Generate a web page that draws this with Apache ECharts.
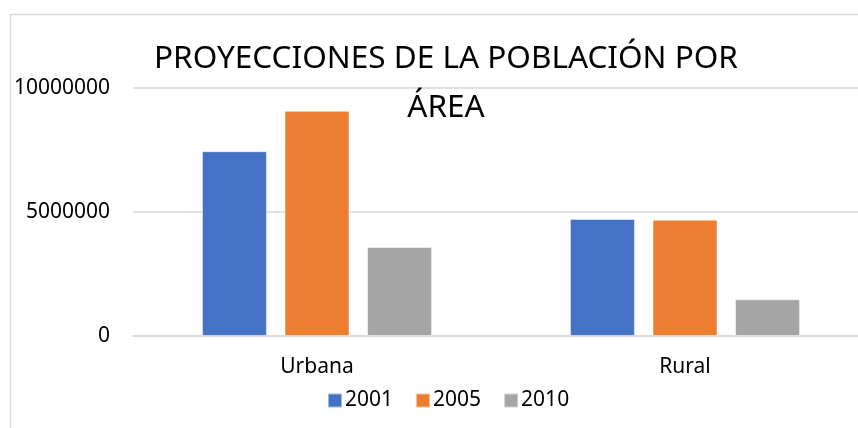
<!DOCTYPE html>
<html>
<head>
<meta charset="utf-8">
<script src="https://cdn.jsdelivr.net/npm/echarts@6/dist/echarts.min.js"></script>
<style>
  html, body { margin: 0; padding: 0; background: #fff; overflow: hidden; }
  #chart { width: 880px; height: 428px; }
</style>
</head>
<body>
<div id="chart"></div>
<script>
var categories = ['Urbana', 'Rural'];
var years = ['2001', '2005', '2010'];
var values2001 = [7450000, 4720000];
var values2005 = [9080000, 4690000];
var values2010 = [3590000, 1480000];
var yTicks = [0, 5000000, 10000000];
var colors = ['#4472C4', '#ED7D31', '#A5A5A5'];

var chart = echarts.init(document.getElementById('chart'));
var font = 'Noto Sans';

var seriesData = [values2001, values2005, values2010];
var series = years.map(function (y, i) {
    return {
        name: y,
        type: 'bar',
        data: seriesData[i],
        barWidth: 65,
        barGap: '27%',
        itemStyle: { color: colors[i], borderColor: 'rgba(255,255,255,0.5)', borderWidth: 1 }
    };
});

var option = {
    backgroundColor: '#fff',
    animation: false,
    graphic: [{
        type: 'rect',
        shape: { x: 10.5, y: 14.5, width: 900, height: 500 },
        style: { fill: 'none', stroke: '#d9d9d9', lineWidth: 1.5 },
        z: -1
    }],
    title: {
        text: 'PROYECCIONES DE LA POBLACIÓN POR\nÁREA',
        left: 441,
        top: 30,
        textAlign: 'center',
        textStyle: { fontFamily: font, fontSize: 31.5, fontWeight: 'normal', color: '#000', lineHeight: 49 }
    },
    legend: {
        data: years,
        left: 322,
        top: 385,
        itemWidth: 14,
        itemHeight: 14,
        itemGap: 22,
        icon: 'rect',
        textStyle: { fontFamily: font, fontSize: 21, color: '#000', padding: [0, 0, 0, -2] }
    },
    grid: { left: 133, right: 11, top: 88, bottom: 92, containLabel: false },
    xAxis: {
        type: 'category',
        data: categories,
        axisLine: { lineStyle: { color: '#d9d9d9', width: 1.5 } },
        axisTick: { show: false },
        axisLabel: { fontFamily: font, fontSize: 21, color: '#000', margin: 21 }
    },
    yAxis: {
        type: 'value',
        min: yTicks[0],
        max: yTicks[yTicks.length - 1],
        interval: yTicks[1] - yTicks[0],
        axisLine: { show: false },
        axisTick: { show: false },
        splitLine: { lineStyle: { color: '#d9d9d9', width: 1.5 } },
        axisLabel: {
            fontFamily: font, fontSize: 21, color: '#000', margin: 23,
            formatter: function (v) { return String(v); }
        }
    },
    series: series
};
chart.setOption(option);
</script>
</body>
</html>
